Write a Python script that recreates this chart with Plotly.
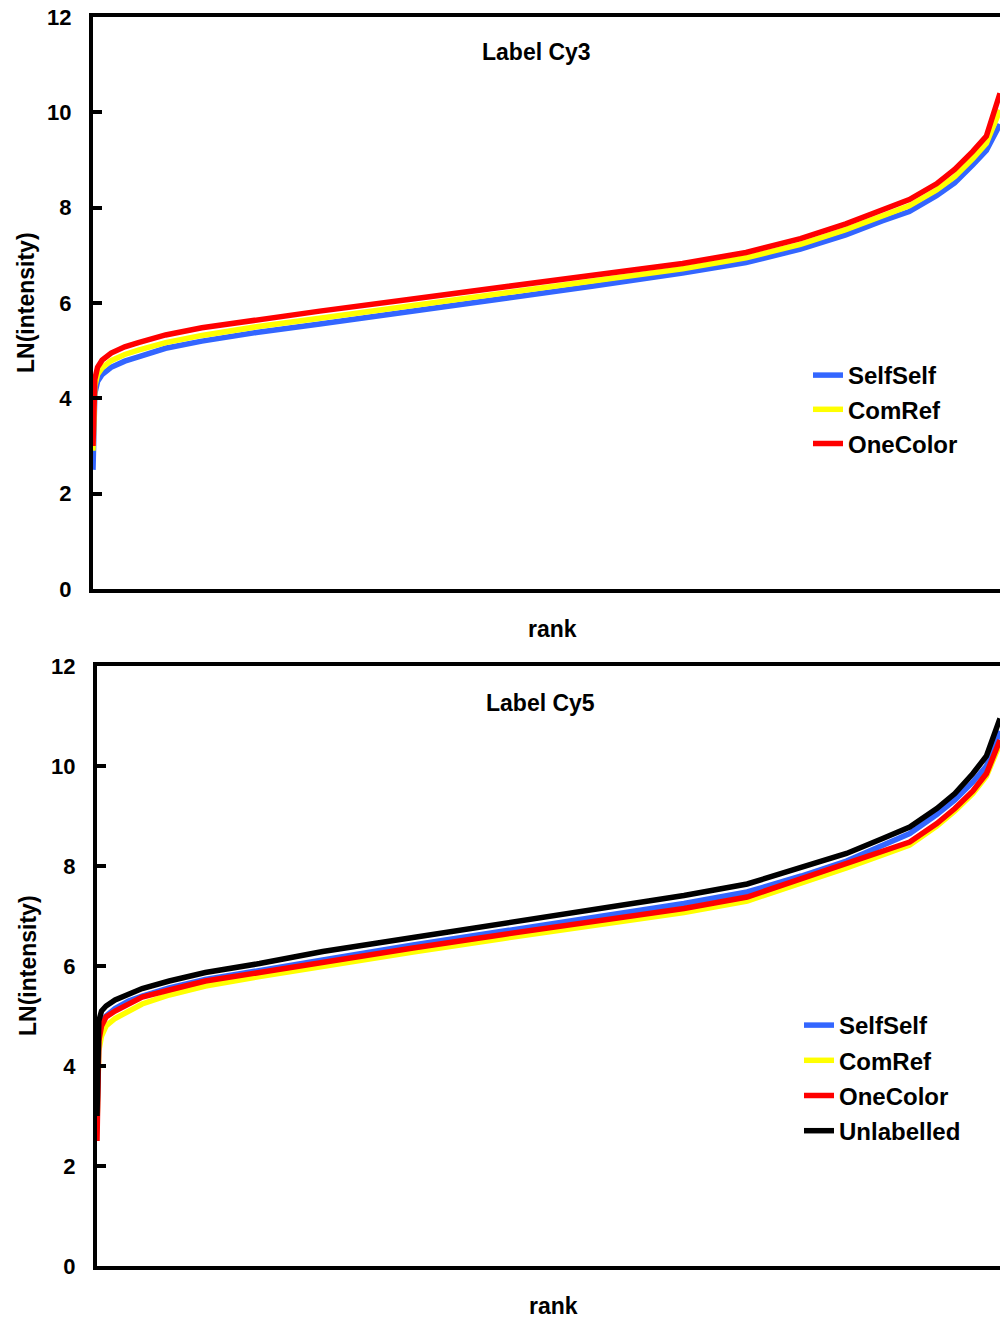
import plotly.graph_objects as go

# ---------------- data ----------------
rank_pct = [0, 0.2, 0.5, 1, 2, 3.5, 5, 8, 12, 18, 25, 35, 45, 55, 65, 72, 78, 83, 87, 90, 93, 95, 97, 98.5, 100]

cy3_selfself = [2.5, 4.1, 4.35, 4.5, 4.65, 4.78, 4.87, 5.05, 5.2, 5.38, 5.56, 5.82, 6.09, 6.35, 6.63, 6.85, 7.13, 7.43, 7.72, 7.92, 8.25, 8.52, 8.9, 9.2, 9.75]
cy3_comref = [2.9, 4.25, 4.5, 4.64, 4.79, 4.92, 5.01, 5.17, 5.32, 5.5, 5.68, 5.94, 6.2, 6.46, 6.72, 6.95, 7.23, 7.54, 7.83, 8.04, 8.37, 8.65, 9.03, 9.35, 10.05]
cy3_onecolor = [3.0, 4.4, 4.65, 4.8, 4.95, 5.08, 5.17, 5.33, 5.48, 5.65, 5.83, 6.08, 6.33, 6.58, 6.83, 7.06, 7.35, 7.66, 7.95, 8.17, 8.5, 8.8, 9.18, 9.5, 10.4]

cy5_selfself = [2.8, 4.6, 4.85, 5.0, 5.15, 5.3, 5.4, 5.56, 5.73, 5.92, 6.12, 6.42, 6.7, 6.98, 7.25, 7.48, 7.8, 8.1, 8.42, 8.65, 9.03, 9.32, 9.68, 10.0, 10.7]
cy5_comref = [2.8, 4.3, 4.6, 4.8, 4.95, 5.1, 5.24, 5.42, 5.6, 5.79, 6.0, 6.28, 6.55, 6.81, 7.07, 7.3, 7.65, 7.96, 8.22, 8.42, 8.8, 9.1, 9.45, 9.8, 10.45]
cy5_onecolor = [2.5, 4.5, 4.8, 4.98, 5.1, 5.25, 5.38, 5.52, 5.7, 5.87, 6.08, 6.36, 6.63, 6.9, 7.15, 7.38, 7.75, 8.05, 8.3, 8.48, 8.85, 9.15, 9.5, 9.85, 10.52]
cy5_unlabelled = [3.0, 4.9, 5.1, 5.2, 5.32, 5.45, 5.55, 5.7, 5.87, 6.05, 6.29, 6.57, 6.85, 7.13, 7.41, 7.64, 7.96, 8.25, 8.55, 8.78, 9.15, 9.45, 9.85, 10.2, 10.95]

y_ticks = [0, 2, 4, 6, 8, 10, 12]
panel_titles = ["Label Cy3", "Label Cy5"]
x_title = "rank"
y_title = "LN(intensity)"

# ---------------- styles ----------------
BLUE = "#3366FF"
YELLOW = "#FFFF00"
RED = "#FF0000"
BLACK = "#000000"
FONT = "Liberation Sans, Arial, sans-serif"
W, H = 1000, 1318

fig = go.Figure()

def add(x, y, name, color, xa, ya, legend, rank, group):
    fig.add_trace(go.Scatter(
        x=x, y=y, name=name, mode="lines",
        line=dict(color=color, width=5.5),
        xaxis=xa, yaxis=ya, legend=legend, legendrank=rank,
        legendgroup=group,
    ))

# top panel (Cy3)
add(rank_pct, cy3_selfself, "SelfSelf", BLUE, "x", "y", "legend", 1, "a1")
add(rank_pct, cy3_comref, "ComRef", YELLOW, "x", "y", "legend", 2, "a2")
add(rank_pct, cy3_onecolor, "OneColor", RED, "x", "y", "legend", 3, "a3")

# bottom panel (Cy5)
add(rank_pct, cy5_comref, "ComRef", YELLOW, "x2", "y2", "legend2", 2, "b2")
add(rank_pct, cy5_selfself, "SelfSelf", BLUE, "x2", "y2", "legend2", 1, "b1")
add(rank_pct, cy5_onecolor, "OneColor", RED, "x2", "y2", "legend2", 3, "b3")
add(rank_pct, cy5_unlabelled, "Unlabelled", BLACK, "x2", "y2", "legend2", 4, "b4")

def px_x(p):
    return p / W

def px_y(p):
    return 1 - p / H

top_dom_y = [px_y(589), px_y(17)]
bot_dom_y = [px_y(1266), px_y(666)]

xaxis_common = dict(
    range=[0, 100], showgrid=False, zeroline=False, showticklabels=False,
    ticks="", showline=True, linecolor="black", linewidth=4, mirror=True,
    automargin=False,
)
yaxis_common = dict(
    range=[0, 12], tickvals=y_ticks, showgrid=False, zeroline=False,
    ticks="inside", ticklen=9, tickwidth=4, tickcolor="black",
    showline=True, linecolor="black", linewidth=4, mirror=False,
    tickfont=dict(family=FONT, size=22, color="black", weight="bold"),
    ticklabelstandoff=13, automargin=False,
)

legend_common = dict(
    font=dict(family=FONT, size=24, color="black", weight="bold"),
    bgcolor="rgba(0,0,0,0)", borderwidth=0,
    traceorder="grouped",
    xanchor="left", yanchor="top", itemwidth=30,
)

fig.update_layout(
    width=W, height=H,
    margin=dict(l=0, r=0, t=0, b=0, autoexpand=False),
    paper_bgcolor="white", plot_bgcolor="white",
    xaxis=dict(domain=[px_x(93), 1.0], anchor="y", **xaxis_common),
    yaxis=dict(domain=top_dom_y, anchor="x", **yaxis_common),
    xaxis2=dict(domain=[px_x(97), 1.0], anchor="y2", **xaxis_common),
    yaxis2=dict(domain=bot_dom_y, anchor="x2", **yaxis_common),
    legend=dict(x=px_x(808), y=px_y(353), tracegroupgap=0, **legend_common),
    legend2=dict(x=px_x(799), y=px_y(1003), tracegroupgap=1, **legend_common),
    showlegend=True,
)

ann_font = dict(family=FONT, size=23, color="black", weight="bold")
annotations = [
    dict(text=panel_titles[0], x=px_x(536), y=px_y(52)),
    dict(text=panel_titles[1], x=px_x(540), y=px_y(703)),
    dict(text=x_title, x=px_x(552), y=px_y(629)),
    dict(text=x_title, x=px_x(553), y=px_y(1306)),
    dict(text=y_title, x=px_x(26), y=px_y(303), textangle=-90),
    dict(text=y_title, x=px_x(28), y=px_y(966), textangle=-90),
]
for a in annotations:
    fig.add_annotation(xref="paper", yref="paper", showarrow=False,
                       xanchor="center", yanchor="middle", font=ann_font, **a)

fig.write_html("out.html",
               config={"displayModeBar": False},
               post_script="document.body.style.margin='0';document.body.style.overflow='hidden';")
